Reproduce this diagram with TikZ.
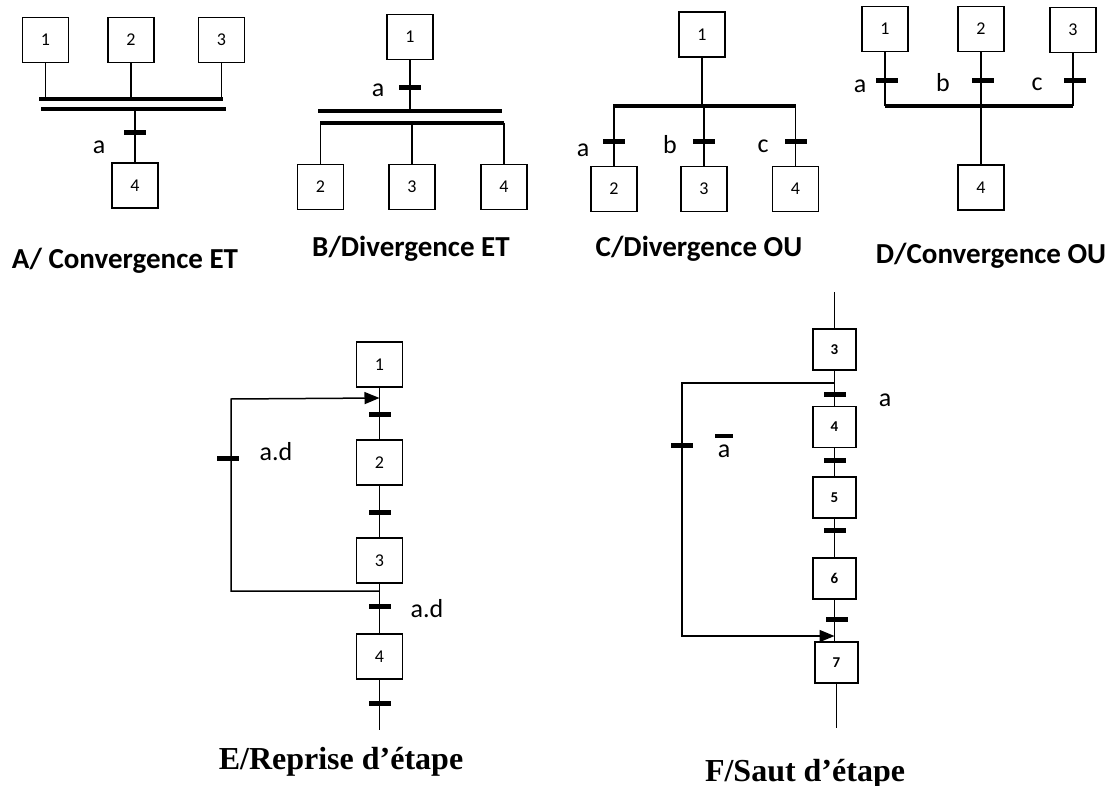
\documentclass[tikz,border=0pt]{standalone}
\usepackage{fontspec}
\setmainfont{Carlito}
\newfontfamily\timesfont{Liberation Serif}
\usetikzlibrary{arrows.meta}

\tikzset{
  stepbox/.style={draw, line width=1.3pt, minimum width=46pt, minimum height=45pt,
    inner sep=0pt, font=\fontsize{18}{21}\selectfont},
  smallbox/.style={stepbox, minimum width=43pt, minimum height=41pt,
    font=\fontsize{15}{18}\selectfont\bfseries},
  link/.style={line width=1.3pt},
  bar/.style={line width=3.8pt},
  tmark/.style={fill=black, minimum width=22pt, minimum height=5pt, inner sep=0pt},
  cond/.style={font=\fontsize{26}{30}\selectfont, inner sep=0pt},
  title/.style={font=\fontsize{29}{33}\selectfont\bfseries, anchor=base, inner sep=0pt},
  serif title/.style={font=\timesfont\fontsize{32}{36}\selectfont\bfseries, anchor=base, inner sep=0pt},
  loop/.style={line width=1.5pt},
  jump/.style={loop, -{Triangle[length=15pt,width=12pt]}}
}

\begin{document}
\begin{tikzpicture}[x=1pt, y=-1pt]
\useasboundingbox (0,0) rectangle (1115,786);

% ---------------- A: convergence ET ----------------
\node[stepbox] (A1) at (45.5,40) {1};
\node[stepbox] (A2) at (131,40) {2};
\node[stepbox] (A3) at (221.5,40) {3};
\node[stepbox] (A4) at (135,185.5) {4};
\coordinate (Ab1w) at (39,99);   \coordinate (Ab1e) at (223,99);
\coordinate (Ab2w) at (41,109);  \coordinate (Ab2e) at (226,109);
\draw[bar] (Ab1w) -- (Ab1e);
\draw[bar] (Ab2w) -- (Ab2e);
\foreach \s in {A1,A2,A3} \draw[link] (\s.south) -- (\s.south |- Ab1w);
\draw[link] (A4.north |- Ab2w) -- (A4.north);
\node[tmark] (At) at (135,133) {};
\node[cond] (Aa) at (99,147) {a};
\node[title] (Atitle) at (125,268) {A/ Convergence ET};

% ---------------- B: divergence ET ----------------
\node[stepbox] (B1) at (410,37) {1};
\node[stepbox] (B2) at (320.5,187) {2};
\node[stepbox] (B3) at (412,187) {3};
\node[stepbox] (B4) at (504,187) {4};
\coordinate (Bb1w) at (318,111); \coordinate (Bb1e) at (502,111);
\coordinate (Bb2w) at (320,123); \coordinate (Bb2e) at (504,123);
\draw[bar] (Bb1w) -- (Bb1e);
\draw[bar] (Bb2w) -- (Bb2e);
\draw[link] (B1.south) -- (B1.south |- Bb1w);
\foreach \s in {B2,B3,B4} \draw[link] (\s.north |- Bb2w) -- (\s.north);
\node[tmark] (Bt) at (410,88) {};
\node[cond] (Ba) at (378,90) {a};
\node[title] (Btitle) at (411,256) {B/Divergence ET};

% ---------------- C: divergence OU ----------------
\node[stepbox] (C1) at (702,34.5) {1};
\node[stepbox] (C2) at (614,189) {2};
\node[stepbox] (C3) at (704,189) {3};
\node[stepbox] (C4) at (795.5,189) {4};
\coordinate (Cbw) at (613,106); \coordinate (Cbe) at (796,106);
\draw[bar] (Cbw) -- (Cbe);
\draw[link] (C1.south) -- (C1.south |- Cbw);
\foreach \s in {C2,C3,C4} {
  \draw[link] (\s.north |- Cbw) -- (\s.north);
  \node[tmark] at (\s.north |- 0,142) {};
}
\node[cond] (Ca) at (583,150) {a};
\node[cond] (Cb) at (670,145) {b};
\node[cond] (Cc) at (763,146) {c};
\node[title] (Ctitle) at (699,256) {C/Divergence OU};

% ---------------- D: convergence OU ----------------
\node[stepbox] (D1) at (885,29) {1};
\node[stepbox] (D2) at (981,29) {2};
\node[stepbox] (D3) at (1073,30) {3};
\node[stepbox] (D4) at (981,187.5) {4};
\coordinate (Dbw) at (885,106); \coordinate (Dbe) at (1073,106);
\draw[bar] (Dbw) -- (Dbe);
\foreach \s in {D1,D2,D3} {
  \draw[link] (\s.south) -- (\s.south |- Dbw);
  \node[tmark] at ([xshift=2pt]\s.south |- 0,81) {};
}
\draw[link] (D4.north |- Dbw) -- (D4.north);
\node[cond] (Da) at (860,86) {a};
\node[cond] (Db) at (943,83) {b};
\node[cond] (Dc) at (1037,84) {c};
\node[title] (Dtitle) at (991,263) {D/Convergence OU};

% ---------------- E: reprise d'étape ----------------
\node[stepbox] (E1) at (379.5,364.5) {1};
\node[stepbox] (E2) at (379.5,462.5) {2};
\node[stepbox] (E3) at (379.5,560.5) {3};
\node[stepbox] (E4) at (379.5,656.5) {4};
\coordinate (Eend) at (379.5,730);
\draw[link] (E1) -- (E2) (E2) -- (E3) (E3) -- (E4);
\draw[link] (E4.south) -- (Eend);
\foreach \y in {414,512,606,703} \node[tmark] at (379.5,\y) {};
\coordinate (Eout) at (379.5,591);
\coordinate (Ein) at (379.5,398);
\draw[jump] (Eout) -| (231,399) -- (Ein);
\node[tmark] (Et) at (228,458) {};
\node[cond] (Ead1) at (276,452) {a.d};
\node[cond] (Ead2) at (427,609) {a.d};
\node[serif title] (Etitle) at (341,769) {E/Reprise d’étape};

% ---------------- F: saut d'étape ----------------
\node[smallbox] (F3) at (834.5,349.5) {3};
\node[smallbox] (F4) at (834.5,427) {4};
\node[smallbox] (F5) at (834.5,497.5) {5};
\node[smallbox] (F6) at (834.5,578.5) {6};
\node[smallbox] (F7) at (836.5,662.5) {7};
\coordinate (Ftop) at (834.5,292);
\coordinate (Fend) at (836.5,728);
\draw[link] (Ftop) -- (F3.north);
\draw[link] (F3) -- (F4) (F4) -- (F5) (F5) -- (F6);
\draw[link] (F6.south) -- (F6.south |- F7.north);
\draw[link] (F7.south) -- (Fend);
\foreach \y in {394,460,530} \node[tmark] at (834.5,\y) {};
\node[tmark] at (836.5,619) {};
\coordinate (Fout) at (834.5,383);
\coordinate (Fin) at (834.5,636);
\draw[jump] (Fout) -| (682,636) -- (Fin);
\node[tmark] (Ft) at (682,445) {};
\node[cond] (Fa) at (885,400) {a};
\node[cond] (Fna) at (724,451) {a};
\draw[line width=3.5pt] (715,436) -- (733,436);
\node[serif title] (Ftitle) at (805,781) {F/Saut d’étape};
\end{tikzpicture}
\end{document}
